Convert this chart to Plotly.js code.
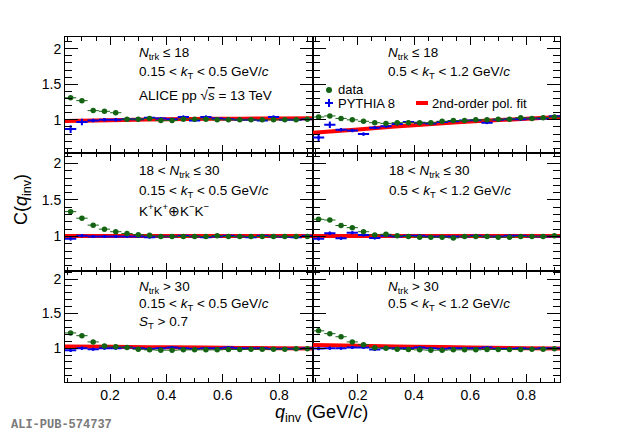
<!DOCTYPE html>
<html>
<head>
<meta charset="utf-8">
<script src="https://cdn.plot.ly/plotly-3.0.1.min.js"></script>
<style>html,body{margin:0;padding:0;background:#fff;}#chart{width:620px;height:433px;}</style>
</head>
<body>
<div id="chart"></div>
<script>
// ---- data ----
const qCenters = [0.06,0.10,0.14,0.18,0.22,0.26,0.30,0.34,0.38,0.42,0.46,0.50,0.54,0.58,0.62,0.66,0.70,0.74,0.78,0.82,0.86,0.90];
const binHalfWidth = 0.02;
const fitQ = [0.04,0.20,0.40,0.60,0.80,0.92];

// Row 1: Ntrk <= 18
const dataLowMult_lowKt   = [1.31,1.27,1.13,1.12,1.10,1.01,1.01,1.02,0.99,0.99,1.01,1.01,1.01,1.00,1.00,1.00,1.00,1.00,1.00,1.00,1.00,1.01];
const pythiaLowMult_lowKt = [0.87,0.97,0.99,1.00,1.00,1.01,1.01,1.03,1.02,1.01,1.04,0.99,1.04,1.02,1.01,1.00,1.00,0.99,1.04,1.00,1.00,1.01];
const fitLowMult_lowKt    = [0.985,0.995,1.008,1.015,1.020,1.022];
const dataLowMult_highKt   = [1.04,1.055,1.02,1.00,0.98,0.96,0.95,0.96,0.96,0.96,0.96,0.98,0.99,0.99,1.00,1.00,1.01,1.01,1.03,1.02,1.03,1.04];
const pythiaLowMult_highKt = [0.75,0.93,0.86,0.85,0.80,0.89,0.91,0.94,0.97,0.96,0.95,0.97,0.98,0.99,0.995,0.96,1.00,1.01,1.01,1.02,1.02,1.05];
const fitLowMult_highKt    = [0.82,0.865,0.925,0.975,1.015,1.04];

// Row 2: 18 < Ntrk <= 30
const dataMidMult_lowKt   = [1.34,1.25,1.155,1.10,1.065,1.04,1.025,1.015,1.00,1.00,1.00,1.00,1.00,1.01,1.00,1.00,1.00,1.00,1.00,1.00,1.00,1.00];
const pythiaMidMult_lowKt = [0.97,1.01,1.00,1.00,1.00,1.00,1.00,0.99,1.00,1.00,1.01,1.00,0.99,1.00,1.01,1.00,0.99,1.01,1.00,0.995,0.99,1.01];
const fitMidMult_lowKt    = [1.005,1.005,1.005,1.005,1.005,1.005];
const dataMidMult_highKt   = [1.235,1.225,1.15,1.12,1.065,1.02,1.03,1.01,1.00,0.99,0.99,0.99,0.98,1.00,1.00,1.00,0.99,0.99,1.00,1.00,1.00,1.01];
const pythiaMidMult_highKt = [0.97,1.045,0.975,1.05,1.02,0.98,1.01,1.00,1.01,1.01,1.00,1.00,1.00,1.00,1.01,1.00,1.00,1.01,1.01,1.00,1.00,1.00];
const fitMidMult_highKt    = [1.005,1.005,1.005,1.005,1.005,1.005];

// Row 3: Ntrk > 30
const dataHighMult_lowKt   = [1.22,1.18,1.09,1.03,1.02,1.01,0.985,0.975,0.97,0.97,0.975,0.975,0.975,0.975,0.98,0.98,0.985,0.985,0.985,0.985,0.99,0.99];
const pythiaHighMult_lowKt = [0.97,1.00,0.985,1.00,1.00,1.01,1.00,0.99,1.00,1.01,1.00,0.99,1.00,1.00,1.01,1.00,1.00,1.00,0.99,0.99,0.99,1.00];
const fitHighMult_lowKt    = [1.025,1.02,1.012,1.005,0.998,0.995];
const dataHighMult_highKt   = [1.25,1.21,1.165,1.09,1.05,1.005,1.00,0.985,0.98,0.975,0.97,0.97,0.975,0.975,0.975,0.98,0.98,0.98,0.98,0.985,0.985,0.99];
const pythiaHighMult_highKt = [0.995,1.00,1.00,1.01,1.01,0.98,1.00,1.00,1.00,1.01,1.00,0.99,1.00,1.00,1.00,1.01,0.99,0.99,1.00,0.99,1.00,1.00];
const fitHighMult_highKt    = [1.045,1.035,1.02,1.01,1.00,0.995];

// uncertainties
const dataErr         = [0.015,0.012,0.010,0.010,0.009,0.008,0.008,0.008,0.008,0.008,0.008,0.008,0.008,0.008,0.008,0.008,0.008,0.008,0.008,0.008,0.008,0.008];
const pythiaErrTopRow = [0.055,0.045,0.025,0.025,0.022,0.02,0.02,0.02,0.02,0.02,0.02,0.02,0.02,0.02,0.02,0.02,0.02,0.02,0.02,0.02,0.02,0.02];
const pythiaErr       = [0.025,0.022,0.02,0.02,0.018,0.018,0.016,0.016,0.016,0.016,0.016,0.016,0.016,0.016,0.016,0.016,0.016,0.016,0.016,0.016,0.016,0.016];

// ---- styling ----
const GREEN = '#146414', BLUE = '#0000e6', RED = '#ff0000';
const FONT = 'Liberation Sans, Arial, sans-serif';

const panels = [
  {data: dataLowMult_lowKt,   pythia: pythiaLowMult_lowKt,   fit: fitLowMult_lowKt,   perr: pythiaErrTopRow},
  {data: dataLowMult_highKt,  pythia: pythiaLowMult_highKt,  fit: fitLowMult_highKt,  perr: pythiaErrTopRow},
  {data: dataMidMult_lowKt,   pythia: pythiaMidMult_lowKt,   fit: fitMidMult_lowKt,   perr: pythiaErr},
  {data: dataMidMult_highKt,  pythia: pythiaMidMult_highKt,  fit: fitMidMult_highKt,  perr: pythiaErr},
  {data: dataHighMult_lowKt,  pythia: pythiaHighMult_lowKt,  fit: fitHighMult_lowKt,  perr: pythiaErr},
  {data: dataHighMult_highKt, pythia: pythiaHighMult_highKt, fit: fitHighMult_highKt, perr: pythiaErr}
];

const traces = [];
panels.forEach((p, i) => {
  const xa = 'x' + (i + 1), ya = 'y' + (i + 1);
  traces.push({
    x: fitQ, y: p.fit, xaxis: xa, yaxis: ya, type: 'scatter', mode: 'lines',
    line: {color: RED, width: 4, shape: 'spline'}, hoverinfo: 'skip'
  });
  traces.push({
    x: qCenters, y: p.pythia, xaxis: xa, yaxis: ya, type: 'scatter', mode: 'markers',
    marker: {color: BLUE, size: 3},
    error_x: {type: 'constant', value: binHalfWidth, color: BLUE, thickness: 2, width: 0},
    error_y: {type: 'data', array: p.perr, color: BLUE, thickness: 2, width: 0},
    hoverinfo: 'skip'
  });
  traces.push({
    x: qCenters, y: p.data, xaxis: xa, yaxis: ya, type: 'scatter', mode: 'markers',
    marker: {color: GREEN, size: 5.5, symbol: 'circle'},
    error_x: {type: 'constant', value: binHalfWidth, color: GREEN, thickness: 1, width: 0},
    error_y: {type: 'data', array: dataErr, color: GREEN, thickness: 1, width: 0},
    hoverinfo: 'skip'
  });
});

function xAxis(domain, anchor, labels) {
  return {
    domain: domain, anchor: anchor, range: [0.04, 0.92],
    showline: true, linecolor: 'black', linewidth: 1, mirror: 'ticks',
    ticks: 'inside', ticklen: 8, tickwidth: 1, tickcolor: 'black',
    tick0: 0, dtick: 0.2,
    minor: {ticks: 'inside', ticklen: 4, tickwidth: 1, tickcolor: 'black', tick0: 0, dtick: 0.05, showgrid: false},
    showgrid: false, zeroline: false, showticklabels: labels,
    tickfont: {family: FONT, size: 14, color: 'black'}
  };
}
function yAxis(domain, anchor, range, labels) {
  return {
    domain: domain, anchor: anchor, range: range,
    showline: true, linecolor: 'black', linewidth: 1, mirror: 'ticks',
    ticks: 'inside', ticklen: 13, tickwidth: 1, tickcolor: 'black',
    tick0: 0, dtick: 0.5,
    minor: {ticks: 'inside', ticklen: 7, tickwidth: 1, tickcolor: 'black', tick0: 0, dtick: 0.1, showgrid: false},
    showgrid: false, zeroline: false, showticklabels: labels,
    tickfont: {family: FONT, size: 14, color: 'black'}
  };
}

const rowTop = [0.663, 1], rowMid = [0.3225, 0.663], rowBot = [0, 0.3225];
const colL = [0, 0.501], colR = [0.501, 1];
const rTop = [0.53, 2.165], rMid = [0.53, 2.14], rBot = [0.51, 2.12];

// pixel -> paper helpers for text placement
const PX = x => (x - 65) / 495;
const PY = y => (382 - y) / 345;

function txt(text, x, y, size, extra) {
  return Object.assign({
    text: text, xref: 'paper', yref: 'paper', x: PX(x), y: PY(y),
    xanchor: 'left', yanchor: 'middle', showarrow: false,
    font: {family: FONT, size: size || 13.5, color: 'black'}
  }, extra || {});
}

const kLow = '0.15 < <i>k</i><sub>T</sub> < 0.5 GeV/<i>c</i>';
const kHigh = '0.5 < <i>k</i><sub>T</sub> < 1.2 GeV/<i>c</i>';

const annotations = [
  txt('<i>N</i><sub>trk</sub> ≤ 18', 137, 54),
  txt(kLow, 137, 72.5),
  txt('ALICE pp √<span style="text-decoration:overline"><i>s</i></span> = 13 TeV', 137, 95),
  txt('<i>N</i><sub>trk</sub> ≤ 18', 386, 54),
  txt(kHigh, 386, 72.5),
  txt('data', 336, 89.5, 13),
  txt('PYTHIA 8', 336, 104, 13),
  txt('2nd-order pol. fit', 430, 104, 13),
  txt('18 < <i>N</i><sub>trk</sub> ≤ 30', 137, 171),
  txt(kLow, 137, 191),
  txt('K<sup>+</sup>K<sup>+</sup>⊕K<sup>−</sup>K<sup>−</sup>', 137, 210),
  txt('18 < <i>N</i><sub>trk</sub> ≤ 30', 387, 171),
  txt(kHigh, 387, 191),
  txt('<i>N</i><sub>trk</sub> > 30', 137, 287),
  txt(kLow, 137, 304.5),
  txt('<i>S</i><sub>T</sub> > 0.7', 137, 322.5),
  txt('<i>N</i><sub>trk</sub> > 30', 386, 287),
  txt(kHigh, 386, 304.5),
  // axis titles
  txt('C(<i>q</i><sub>inv</sub>)', 22, 200, 18, {xanchor: 'center', textangle: -90}),
  txt('<i>q</i><sub>inv</sub> (GeV/<i>c</i>)', 321, 413, 18, {xanchor: 'center'}),
  // publication id
  txt('<b>ALI-PUB-574737</b>', 9, 425, 12, {font: {family: 'Liberation Mono, monospace', size: 12, color: '#7a7a7a'}})
];

const shapes = [
  {type: 'circle', xref: 'paper', yref: 'paper', x0: PX(326), x1: PX(332), y0: PY(93), y1: PY(87), fillcolor: GREEN, line: {width: 0}},
  {type: 'line', xref: 'paper', yref: 'paper', x0: PX(325), x1: PX(333), y0: PY(103), y1: PY(103), line: {color: BLUE, width: 2}},
  {type: 'line', xref: 'paper', yref: 'paper', x0: PX(329), x1: PX(329), y0: PY(99), y1: PY(107), line: {color: BLUE, width: 2}},
  {type: 'line', xref: 'paper', yref: 'paper', x0: PX(416), x1: PX(428), y0: PY(103), y1: PY(103), line: {color: RED, width: 4}}
];

const layout = {
  width: 620, height: 433,
  margin: {l: 65, r: 60, t: 37, b: 51, pad: 0},
  paper_bgcolor: 'white', plot_bgcolor: 'white',
  showlegend: false,
  font: {family: FONT, color: 'black'},
  xaxis:  xAxis(colL, 'y',  false), yaxis:  yAxis(rowTop, 'x',  rTop, true),
  xaxis2: xAxis(colR, 'y2', false), yaxis2: yAxis(rowTop, 'x2', rTop, false),
  xaxis3: xAxis(colL, 'y3', false), yaxis3: yAxis(rowMid, 'x3', rMid, true),
  xaxis4: xAxis(colR, 'y4', false), yaxis4: yAxis(rowMid, 'x4', rMid, false),
  xaxis5: xAxis(colL, 'y5', true),  yaxis5: yAxis(rowBot, 'x5', rBot, true),
  xaxis6: xAxis(colR, 'y6', true),  yaxis6: yAxis(rowBot, 'x6', rBot, false),
  annotations: annotations,
  shapes: shapes
};

Plotly.newPlot('chart', traces, layout, {staticPlot: true, displayModeBar: false});
</script>
</body>
</html>
